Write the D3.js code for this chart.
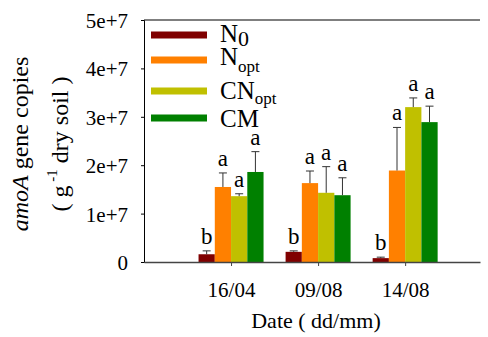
<!DOCTYPE html>
<html>
<head>
<meta charset="utf-8">
<script src="https://cdn.jsdelivr.net/npm/d3@7"></script>
<style>
  body { margin: 0; background: #fff; }
</style>
</head>
<body>
<svg id="vis"></svg>
<script>
// datos
const dates = ["16/04", "09/08", "14/08"];
const series = ["N0", "Nopt", "CNopt", "CM"];
const colors = ["#800000", "#ff8000", "#c0c000", "#008000"];

const N0 = [1.6e6, 2.1e6, 0.8e6];
const N0_err = [0.7e6, 0.2e6, 0.2e6];
const Nopt = [1.55e7, 1.63e7, 1.89e7];
const Nopt_err = [0.29e7, 0.25e7, 0.89e7];
const CNopt = [1.36e7, 1.43e7, 3.2e7];
const CNopt_err = [0.05e7, 0.54e7, 0.19e7];
const CM = [1.86e7, 1.38e7, 2.89e7];
const CM_err = [0.42e7, 0.36e7, 0.33e7];
const letters = ["b", "a", "a", "a"];

const yTicks = [0, 1e7, 2e7, 3e7, 4e7, 5e7];
const yTickLabels = ["0", "1e+7", "2e+7", "3e+7", "4e+7", "5e+7"];

const WIDTH = 488;
const HEIGHT = 337;
const FONT = "Liberation Serif";

const svg = d3.select("#vis")
    .attr("width", WIDTH)
    .attr("height", HEIGHT);

// escalas
const x = d3.scaleLinear().domain([0, 3.86]).range([144, 480]);
const inner = d3.scaleBand().domain(series).range([-32.5, 32.5]);
const y = d3.scaleLinear().domain([0, 5e7]).range([262, 20]);

// armar filas
const values = [N0, Nopt, CNopt, CM];
const errs = [N0_err, Nopt_err, CNopt_err, CM_err];
const rows = [];
dates.forEach((d, i) => {
    series.forEach((s, j) => {
        rows.push({ date: i, s: s, j: j, v: values[j][i], e: errs[j][i] });
    });
});

// marco superior
svg.append("line")
    .attr("x1", 144).attr("x2", 480)
    .attr("y1", y(5e7)).attr("y2", y(5e7))
    .attr("stroke", "#555").attr("stroke-width", 1.5);

// barras
svg.append("g").selectAll("rect")
    .data(rows)
    .join("rect")
    .attr("x", d => x(d.date + 1) + inner(d.s))
    .attr("width", inner.bandwidth())
    .attr("y", d => y(d.v))
    .attr("height", d => y(0) - y(d.v))
    .attr("fill", d => colors[d.j]);

// barras de error (solo hacia arriba)
const errG = svg.append("g").attr("stroke", "#333").attr("stroke-width", 1);
rows.forEach(d => {
    const cx = x(d.date + 1) + inner(d.s) + inner.bandwidth() / 2;
    errG.append("line")
        .attr("x1", cx).attr("x2", cx)
        .attr("y1", y(d.v)).attr("y2", y(d.v + d.e));
    errG.append("line")
        .attr("x1", cx - 4).attr("x2", cx + 4)
        .attr("y1", y(d.v + d.e)).attr("y2", y(d.v + d.e));
});

// letras de significancia
svg.append("g").selectAll("text")
    .data(rows)
    .join("text")
    .attr("x", d => x(d.date + 1) + inner(d.s) + inner.bandwidth() / 2)
    .attr("y", d => y(d.v + d.e) - 7)
    .attr("text-anchor", "middle")
    .attr("font-size", 23)
    .text(d => letters[d.j]);

// eje Y
const ejeY = svg.append("g")
    .attr("transform", "translate(144,0)")
    .call(d3.axisLeft(y).tickValues(yTicks).tickFormat((d, i) => yTickLabels[i]).tickSize(3).tickPadding(13));
ejeY.select(".domain").attr("stroke", "#000");
ejeY.selectAll("text")
    .attr("font-size", 21)
    .attr("fill", "#000")
    .attr("dy", "0.36em");

// eje X
const ejeX = svg.append("g")
    .attr("transform", `translate(0,${y(0)})`)
    .call(d3.axisBottom(x).tickValues([1, 2, 3]).tickFormat((d, i) => dates[i]).tickSize(4).tickPadding(16).tickSizeOuter(0));
ejeX.select(".domain").attr("stroke", "#444").attr("stroke-width", 1.5);
ejeX.selectAll("line").attr("stroke", "#444");
ejeX.selectAll("text")
    .attr("font-size", 21)
    .attr("fill", "#000")
    .attr("dy", "0.71em");

// titulo eje X
svg.append("text")
    .attr("x", 316).attr("y", 328)
    .attr("text-anchor", "middle")
    .attr("font-size", 22)
    .text("Date ( dd/mm)");

// titulo eje Y (dos lineas)
const yt1 = svg.append("text")
    .attr("transform", "translate(28,144) rotate(-90)")
    .attr("text-anchor", "middle")
    .attr("font-size", 24);
yt1.append("tspan").attr("font-style", "italic").text("amoA");
yt1.append("tspan").text(" gene copies");

const yt2 = svg.append("text")
    .attr("transform", "translate(68,144) rotate(-90)")
    .attr("text-anchor", "middle")
    .attr("font-size", 24);
yt2.append("tspan").text("( g");
yt2.append("tspan").attr("font-size", 15).attr("dy", -11).text(" -1");
yt2.append("tspan").attr("dy", 11).text(" dry soil )");

// leyenda
const legY = [35, 60, 91, 118];
const legBase = [41.5, 64.5, 98.5, 127];
const legend = svg.append("g");
series.forEach((s, j) => {
    legend.append("line")
        .attr("x1", 151).attr("x2", 207)
        .attr("y1", legY[j]).attr("y2", legY[j])
        .attr("stroke", colors[j]).attr("stroke-width", 7);
    const t = legend.append("text")
        .attr("x", 220).attr("y", legBase[j])
        .attr("font-size", 25);
    if (s === "N0") {
        t.append("tspan").text("N");
        t.append("tspan").attr("font-size", 22).attr("dy", 4).text("0");
    } else if (s === "Nopt") {
        t.append("tspan").text("N");
        t.append("tspan").attr("font-size", 17).attr("dy", 7).text("opt");
    } else if (s === "CNopt") {
        t.append("tspan").text("CN");
        t.append("tspan").attr("font-size", 17).attr("dy", 5).text("opt");
    } else {
        t.text("CM");
    }
});

// fuente serif en todos los textos
svg.selectAll("g").attr("font-family", null);
svg.selectAll("text").style("font-family", FONT);
</script>
</body>
</html>
